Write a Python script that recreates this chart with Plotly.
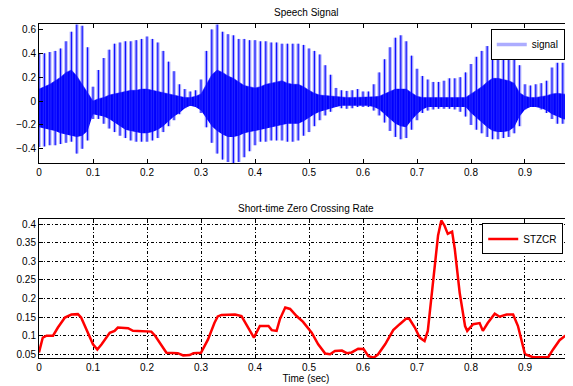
import plotly.graph_objects as go

# ---- Speech signal envelope, read on a 0.01 s grid (t = 0.00 ... 0.98) ----
t_env = [round(i * 0.01, 2) for i in range(99)]
sig_peak_hi = [0.40, 0.40, 0.41, 0.42, 0.44, 0.50, 0.58, 0.64, 0.63, 0.45,
               0.12, 0.26, 0.36, 0.43, 0.48, 0.49, 0.50, 0.50, 0.51, 0.52,
               0.54, 0.52, 0.49, 0.42, 0.33, 0.25, 0.14, 0.10, 0.08, 0.09,
               0.18, 0.42, 0.60, 0.64, 0.58, 0.56, 0.55, 0.52, 0.52, 0.51,
               0.51, 0.50, 0.50, 0.49, 0.49, 0.48, 0.48, 0.48, 0.48, 0.47,
               0.44, 0.42, 0.39, 0.30, 0.22, 0.11, 0.09, 0.085, 0.09, 0.10,
               0.08, 0.08, 0.14, 0.24, 0.35, 0.45, 0.53, 0.55, 0.50, 0.38,
               0.27, 0.21, 0.18, 0.16, 0.16, 0.17, 0.19, 0.19, 0.20, 0.24,
               0.31, 0.37, 0.42, 0.46, 0.48, 0.48, 0.46, 0.44, 0.40, 0.30,
               0.14, 0.13, 0.14, 0.15, 0.17, 0.28, 0.32, 0.32, 0.31]
sig_peak_lo = [-0.385, -0.38, -0.37, -0.37, -0.36, -0.35, -0.34, -0.44, -0.40, -0.33,
               -0.15, -0.15, -0.19, -0.23, -0.26, -0.29, -0.31, -0.33, -0.34, -0.34,
               -0.34, -0.33, -0.31, -0.26, -0.21, -0.16, -0.11, -0.06, -0.04, -0.05,
               -0.10, -0.22, -0.35, -0.44, -0.49, -0.51, -0.52, -0.51, -0.47, -0.42,
               -0.37, -0.34, -0.34, -0.33, -0.33, -0.33, -0.34, -0.34, -0.33, -0.29,
               -0.26, -0.21, -0.16, -0.12, -0.09, -0.05, -0.06, -0.065, -0.06, -0.05,
               -0.05, -0.05, -0.08, -0.12, -0.18, -0.25, -0.30, -0.32, -0.31, -0.24,
               -0.16, -0.10, -0.08, -0.07, -0.065, -0.065, -0.065, -0.07, -0.09, -0.13,
               -0.20, -0.24, -0.27, -0.30, -0.32, -0.32, -0.31, -0.30, -0.27, -0.21,
               -0.07, -0.05, -0.05, -0.07, -0.10, -0.15, -0.19, -0.19, -0.19]
sig_band_hi = [0.10, 0.12, 0.14, 0.17, 0.20, 0.24, 0.26, 0.21, 0.14, 0.08,
               0.00, 0.02, 0.03, 0.05, 0.06, 0.07, 0.08, 0.09, 0.09, 0.10,
               0.10, 0.09, 0.08, 0.07, 0.065, 0.05, 0.04, 0.03, 0.03, 0.04,
               0.06, 0.14, 0.22, 0.26, 0.24, 0.21, 0.19, 0.16, 0.13, 0.12,
               0.11, 0.12, 0.14, 0.15, 0.16, 0.17, 0.15, 0.14, 0.14, 0.12,
               0.09, 0.065, 0.05, 0.045, 0.04, 0.035, 0.03, 0.03, 0.03, 0.03,
               0.03, 0.03, 0.035, 0.04, 0.06, 0.08, 0.10, 0.10, 0.10, 0.07,
               0.04, 0.03, 0.03, 0.03, 0.03, 0.03, 0.03, 0.03, 0.03, 0.03,
               0.06, 0.09, 0.12, 0.16, 0.19, 0.19, 0.18, 0.17, 0.15, 0.07,
               0.04, 0.03, 0.03, 0.035, 0.045, 0.06, 0.065, 0.06, 0.055]
sig_band_lo = [-0.22, -0.23, -0.24, -0.25, -0.27, -0.28, -0.29, -0.30, -0.29, -0.25,
               -0.11, -0.12, -0.13, -0.15, -0.18, -0.21, -0.24, -0.25, -0.26, -0.27,
               -0.27, -0.26, -0.24, -0.21, -0.17, -0.13, -0.10, -0.06, -0.04, -0.05,
               -0.08, -0.14, -0.21, -0.25, -0.28, -0.30, -0.30, -0.29, -0.27, -0.26,
               -0.25, -0.24, -0.23, -0.22, -0.21, -0.20, -0.19, -0.19, -0.19, -0.17,
               -0.14, -0.11, -0.09, -0.075, -0.065, -0.05, -0.04, -0.04, -0.04, -0.04,
               -0.04, -0.04, -0.05, -0.07, -0.11, -0.15, -0.19, -0.21, -0.22, -0.16,
               -0.11, -0.07, -0.05, -0.05, -0.05, -0.05, -0.05, -0.05, -0.05, -0.05,
               -0.10, -0.14, -0.18, -0.22, -0.25, -0.26, -0.26, -0.25, -0.22, -0.13,
               -0.07, -0.05, -0.05, -0.06, -0.08, -0.11, -0.13, -0.15, -0.16]

# ---- Short-time zero crossing rate ----
zcr_t = [0, 0.007, 0.014, 0.026, 0.035, 0.048, 0.06, 0.072, 0.078, 0.091, 0.1, 0.108, 0.116,
         0.131, 0.14, 0.146, 0.165, 0.174, 0.208, 0.215, 0.236, 0.257, 0.267, 0.279, 0.286,
         0.3, 0.313, 0.325, 0.331, 0.338, 0.363, 0.375, 0.387, 0.398, 0.409, 0.425, 0.431,
         0.44, 0.446, 0.456, 0.465, 0.477, 0.489, 0.505, 0.517, 0.53, 0.539, 0.548, 0.561,
         0.57, 0.579, 0.591, 0.601, 0.61, 0.62, 0.628, 0.641, 0.656, 0.668, 0.68, 0.686,
         0.696, 0.705, 0.714, 0.72, 0.73, 0.739, 0.745, 0.751, 0.757, 0.765, 0.77, 0.779,
         0.789, 0.793, 0.804, 0.816, 0.822, 0.831, 0.844, 0.853, 0.866, 0.878, 0.887, 0.9,
         0.915, 0.943, 0.952, 0.964, 0.974, 0.99]
zcr = [0.055, 0.095, 0.1, 0.1, 0.122, 0.149, 0.157, 0.158, 0.149, 0.108, 0.077, 0.063, 0.077,
       0.108, 0.113, 0.122, 0.12, 0.113, 0.111, 0.1, 0.054, 0.053, 0.047, 0.048, 0.053,
       0.054, 0.09, 0.135, 0.152, 0.156, 0.157, 0.153, 0.122, 0.095, 0.126, 0.126, 0.115,
       0.113, 0.144, 0.176, 0.172, 0.153, 0.137, 0.108, 0.077, 0.052, 0.05, 0.059, 0.06,
       0.053, 0.055, 0.065, 0.064, 0.045, 0.041, 0.05, 0.077, 0.115, 0.131, 0.146, 0.145,
       0.122, 0.095, 0.086, 0.113, 0.243, 0.37, 0.41, 0.396, 0.374, 0.38, 0.333, 0.216,
       0.126, 0.113, 0.131, 0.134, 0.113, 0.134, 0.159, 0.151, 0.157, 0.157, 0.126, 0.05,
       0.042, 0.042, 0.063, 0.088, 0.099, 0.1]

FONT = "Liberation Sans, Arial, sans-serif"

# spike geometry built from the envelope arrays
spx, spy = [], []
for t, lo, hi in zip(t_env, sig_peak_lo, sig_peak_hi):
    spx += [t, t, None]
    spy += [lo, hi, None]

fig = go.Figure()
# dense inner band
fig.add_trace(go.Scatter(x=t_env, y=sig_band_lo, mode="lines", line=dict(width=0, color="#0000ff"),
                         showlegend=False, hoverinfo="skip", xaxis="x", yaxis="y"))
fig.add_trace(go.Scatter(x=t_env, y=sig_band_hi, mode="lines", line=dict(width=0.5, color="#0000ff"),
                         fill="tonexty", fillcolor="#0000ff", showlegend=False, hoverinfo="skip",
                         xaxis="x", yaxis="y"))
# spikes halo (legend entry)
fig.add_trace(go.Scatter(x=spx, y=spy, mode="lines", name="signal",
                         line=dict(width=3.5, color="rgba(70,70,255,0.45)"),
                         legend="legend", xaxis="x", yaxis="y"))
# spikes core
fig.add_trace(go.Scatter(x=spx, y=spy, mode="lines", line=dict(width=1, color="#0000ff"),
                         showlegend=False, xaxis="x", yaxis="y"))

fig.add_trace(go.Scatter(x=zcr_t, y=zcr, mode="lines", name="STZCR",
                         line=dict(width=2.5, color="#ff0000"),
                         legend="legend2", xaxis="x2", yaxis="y2"))

xr = [0, 0.9889]
axis_common = dict(showline=True, linecolor="black", linewidth=1, ticks="inside", ticklen=4,
                   tickcolor="black", tickfont=dict(family=FONT, size=10, color="black"),
                   zeroline=False)
GRIDDASH = "3px,2px,1px,2px"

# the page body adds an 8px offset; the figure is sized so the plot lands where the reference has it
fig.update_layout(
    width=565, height=378,
    margin=dict(l=31, r=0, t=16, b=28, autoexpand=False),
    paper_bgcolor="white", plot_bgcolor="white",
    font=dict(family=FONT, size=10, color="black"),
    xaxis=dict(domain=[0, 1], range=xr, anchor="y", dtick=0.1, tick0=0, mirror="ticks",
               showgrid=False, **axis_common),
    yaxis=dict(domain=[0.583, 1], range=[-0.521, 0.645], anchor="x", dtick=0.2, tick0=0,
               showgrid=False, **axis_common),
    xaxis2=dict(domain=[0, 1], range=xr, anchor="y2", dtick=0.1, tick0=0, mirror="ticks",
                showgrid=True, gridcolor="black", gridwidth=1, griddash=GRIDDASH,
                title=dict(text="Time (sec)", font=dict(family=FONT, size=10), standoff=1),
                **axis_common),
    yaxis2=dict(domain=[0, 0.415], range=[0.04, 0.413], anchor="x2", dtick=0.05, tick0=0,
                showgrid=True, gridcolor="black", gridwidth=1, griddash=GRIDDASH,
                **axis_common),
    legend=dict(x=0.846, y=0.985, xanchor="left", yanchor="top", bgcolor="white",
                bordercolor="black", borderwidth=1, font=dict(family=FONT, size=10),
                tracegroupgap=0, itemwidth=30),
    legend2=dict(x=0.83, y=0.403, xanchor="left", yanchor="top", bgcolor="white",
                 bordercolor="black", borderwidth=1, font=dict(family=FONT, size=10),
                 tracegroupgap=0, itemwidth=30),
)
fig.add_annotation(text="Speech Signal", x=0.5, y=1.033, xref="paper", yref="paper",
                   showarrow=False, font=dict(family=FONT, size=10), xanchor="center",
                   yanchor="middle")
fig.add_annotation(text="Short-time Zero Crossing Rate", x=0.5, y=(357.7 - 208) / 334,
                   xref="paper", yref="paper", showarrow=False, font=dict(family=FONT, size=10),
                   xanchor="center", yanchor="middle")

fig.write_html("out.html")
